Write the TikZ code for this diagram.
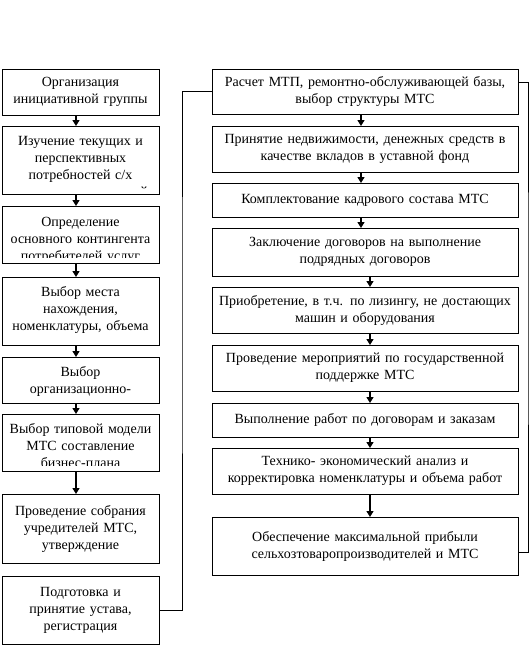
\documentclass[tikz,border=0pt]{standalone}
\usepackage{fontspec}
\setmainfont{Liberation Serif}
\usetikzlibrary{arrows.meta,calc}
\begin{document}
\begin{tikzpicture}[x=1pt,y=-1pt,
  box/.style={draw, line width=0.8pt, inner sep=0pt, outer sep=0pt, anchor=north west},
  ltxt/.style={font=\fontsize{14}{17}\selectfont, text width=155pt, align=center, inner sep=0pt},
  rtxt/.style={font=\fontsize{14}{17}\selectfont, text width=304pt, align=center, inner sep=0pt},
  lbox/.style={box, minimum width=157pt},
  rbox/.style={box, minimum width=306pt},
  arr/.style={line width=1.3pt, -{Triangle[length=6pt,width=7pt]}},
  link/.style={line width=0.8pt}]
\fill[white] (0,0) rectangle (530,656);
\useasboundingbox (0,0) rectangle (530,656);

% left column
\node[lbox, ltxt, minimum height=46pt] (L1) at (2,69) {Организация\\инициативной группы};
\node[lbox, minimum height=68pt] (L2) at (2,126) {};
\node[lbox, minimum height=57pt] (L3) at (2,206) {};
\node[lbox, minimum height=68pt] (L4) at (2,277) {};
\node[lbox, minimum height=46pt] (L5) at (2,357) {};
\node[lbox, minimum height=57pt] (L6) at (2,414) {};
\node[lbox, ltxt, minimum height=69pt] (L7) at (2,494) {Проведение собрания\\учредителей МТС,\\утверждение};
\node[lbox, ltxt, minimum height=68pt] (L8) at (2,576) {Подготовка и\\принятие устава,\\регистрация};

\begin{scope}
\clip (L2.north west) rectangle ($(L2.south east)+(0,-6)$);
\node[ltxt, anchor=base] (T2) at ($(L2.north)+(0,19.5)$) {Изучение текущих и\\перспективных\\потребностей с/х\\товаропроизводителей};
\end{scope}
\begin{scope}
\clip (L3.north west) rectangle ($(L3.south east)+(0,-6)$);
\node[ltxt, anchor=base] (T3) at ($(L3.north)+(0,20)$) {Определение\\основного контингента\\потребителей услуг};
\end{scope}
\begin{scope}
\clip (L4.north west) rectangle ($(L4.south east)+(0,-6)$);
\node[ltxt, anchor=base] (T4) at ($(L4.north)+(0,19)$) {Выбор места\\нахождения,\\номенклатуры, объема};
\end{scope}
\begin{scope}
\clip (L5.north west) rectangle ($(L5.south east)+(0,-6)$);
\node[ltxt, anchor=base] (T5) at ($(L5.north)+(0,19)$) {Выбор\\организационно-\\правовой формы};
\end{scope}
\begin{scope}
\clip (L6.north west) rectangle ($(L6.south east)+(0,-6)$);
\node[ltxt, anchor=base] (T6) at ($(L6.north)+(0,19.5)$) {Выбор типовой модели\\МТС составление\\бизнес-плана};
\end{scope}

% right column
\node[rbox, rtxt, minimum height=45pt] (R1) at (212,69) {Расчет МТП, ремонтно-обслуживающей базы,\\выбор структуры МТС};
\node[rbox, rtxt, minimum height=46pt] (R2) at (212,126) {Принятие недвижимости, денежных средств в\\качестве вкладов в уставной фонд};
\node[rbox, rtxt, minimum height=34pt] (R3) at (212,183) {Комплектование кадрового состава МТС};
\node[rbox, rtxt, minimum height=48pt] (R4) at (212,228) {Заключение договоров на выполнение\\подрядных договоров};
\node[rbox, rtxt, minimum height=46pt] (R5) at (212,287) {Приобретение, в т.ч. по лизингу, не достающих\\машин и оборудования};
\node[rbox, rtxt, minimum height=46pt] (R6) at (212,345) {Проведение мероприятий по государственной\\поддержке МТС};
\node[rbox, rtxt, minimum height=34pt] (R7) at (212,403) {Выполнение работ по договорам и заказам};
\node[rbox, rtxt, minimum height=46pt] (R8) at (212,448) {Технико- экономический анализ и\\корректировка номенклатуры и объема работ};
\node[rbox, rtxt, minimum height=58pt] (R9) at (212,517) {Обеспечение максимальной прибыли\\сельхозтоваропроизводителей и МТС};

% arrows
\coordinate (lx) at (76,0);
\coordinate (ra) at (361,0);
\coordinate (rb) at (370,0);
\foreach \a/\b in {L1/L2,L2/L3,L3/L4,L4/L5,L5/L6,L6/L7}
  \draw[arr] (\a.south -| lx) -- (\b.north -| lx);
\foreach \a/\b in {R1/R2,R2/R3,R3/R4}
  \draw[arr] (\a.south -| ra) -- (\b.north -| ra);
\foreach \a/\b in {R4/R5,R5/R6,R6/R7,R7/R8,R8/R9}
  \draw[arr] (\a.south -| rb) -- (\b.north -| rb);

% loops
\coordinate (lj) at (182,300);
\coordinate (rj) at (528,300);
\draw[link] (L8.east) -| (lj) |- (R1.west);
\draw[link] ($(R1.north east)+(0,13)$) -| (rj) |- ($(R9.north east)+(0,35)$);
\end{tikzpicture}
\end{document}
